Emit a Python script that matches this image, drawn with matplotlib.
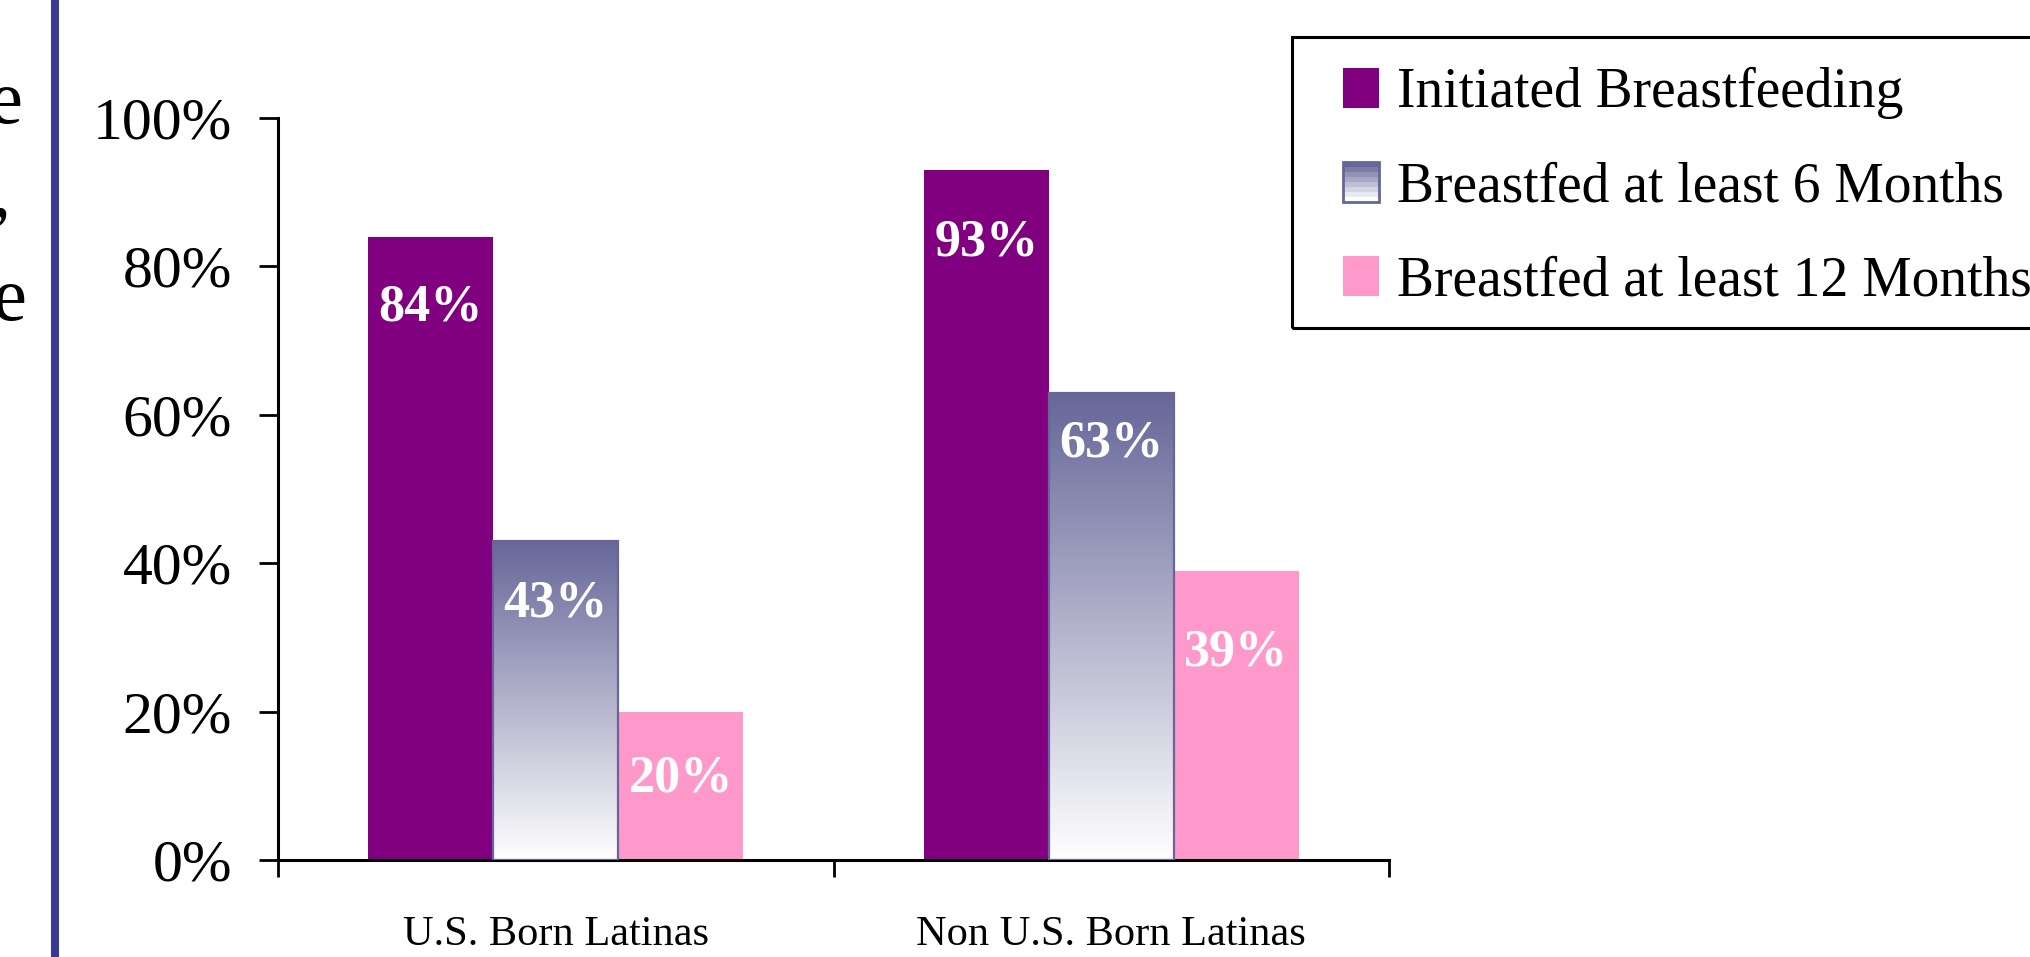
import numpy as np
import matplotlib
matplotlib.use("Agg")
import matplotlib.pyplot as plt
from matplotlib.patches import Rectangle
from matplotlib.colors import LinearSegmentedColormap, to_rgb
from matplotlib.legend_handler import HandlerBase

# ---------------------------------------------------------------------
# Datos
# ---------------------------------------------------------------------
categorias = ["U.S. Born Latinas", "Non U.S. Born Latinas"]
series = ["Initiated Breastfeeding",
          "Breastfed at least 6 Months",
          "Breastfed at least 12 Months"]
iniciado = [84, 93]
seis_meses = [43, 63]
doce_meses = [20, 39]
valores = [iniciado, seis_meses, doce_meses]
yticks = [0, 20, 40, 60, 80, 100]

# ---------------------------------------------------------------------
# Estilo
# ---------------------------------------------------------------------
W, H, DPI = 2030, 957, 100
PURPURA = "#800080"
GRIS_AZUL = "#666699"
ROSA = "#FF99CC"
SERIF = ["Liberation Serif", "DejaVu Serif"]
plt.rcParams["font.family"] = SERIF

ANCHO = 0.225
# distancia (en puntos) del texto de cada barra bajo su borde superior
caida = [[51, 52], [45, 37], [48, 59]]

grad_cmap = LinearSegmentedColormap.from_list("grad", ["#ffffff", GRIS_AZUL])

fig = plt.figure(figsize=(W / DPI, H / DPI), dpi=DPI)
ax = fig.add_axes([278 / W, 1 - 860 / H, (1389 - 278) / W, (860 - 118) / H])

x = np.arange(len(categorias))
for j, vals in enumerate(valores):
    pos = x + (j - 1) * ANCHO
    for k, (xp, v) in enumerate(zip(pos, vals)):
        if j == 1:
            grad = np.linspace(0, 1, 256).reshape(-1, 1)
            ax.imshow(grad, extent=[xp - ANCHO / 2, xp + ANCHO / 2, 0, v],
                      origin="lower", aspect="auto", cmap=grad_cmap, zorder=2)
            ax.bar(xp, v, ANCHO, facecolor="none", edgecolor=GRIS_AZUL,
                   linewidth=1.6, zorder=3)
        else:
            ax.bar(xp, v, ANCHO, color=PURPURA if j == 0 else ROSA,
                   linewidth=0, zorder=2)
        ax.annotate(f"{v}%", (xp, v), xytext=(0, -caida[j][k]),
                    textcoords="offset points", ha="center", va="center",
                    color="white", fontsize=37.5, fontweight="bold", zorder=4)

ax.set_xlim(-0.5, 1.5)
ax.set_ylim(0, 100)
ax.set_yticks(yticks)
ax.set_yticklabels([f"{t}%" for t in yticks])
ax.set_xticks([-0.5, 0.5, 1.5])
ax.set_xticklabels([])
ax.set_xticks(x, minor=True)
ax.set_xticklabels(categorias, minor=True)
ax.tick_params(axis="y", length=14, width=2, labelsize=43, pad=19, direction="out")
ax.tick_params(axis="x", which="major", length=12, width=2, direction="out")
ax.tick_params(axis="x", which="minor", length=0, labelsize=30.5, pad=40)
for s in ["top", "right"]:
    ax.spines[s].set_visible(False)
for s in ["left", "bottom"]:
    ax.spines[s].set_linewidth(2.2)


# ---------------------------------------------------------------------
# Leyenda
# ---------------------------------------------------------------------
class HandlerGradiente(HandlerBase):
    def create_artists(self, legend, orig_handle, xdescent, ydescent,
                       width, height, fontsize, trans):
        n = 8
        c0 = np.array(to_rgb(GRIS_AZUL))
        c1 = np.array([1.0, 1.0, 1.0])
        arts = []
        for i in range(n):
            f = i / (n - 1)
            col = c0 * (1 - f) + c1 * f
            r = Rectangle((-xdescent, -ydescent + height * (1 - (i + 1) / n)),
                          width, height / n, facecolor=col, edgecolor="none",
                          transform=trans)
            arts.append(r)
        arts.append(Rectangle((-xdescent, -ydescent), width, height,
                              facecolor="none", edgecolor=GRIS_AZUL,
                              linewidth=2, transform=trans))
        return arts


h_purpura = Rectangle((0, 0), 1, 1, facecolor=PURPURA, edgecolor="none")
h_grad = Rectangle((0, 0), 1, 1, facecolor=GRIS_AZUL)
h_rosa = Rectangle((0, 0), 1, 1, facecolor=ROSA, edgecolor="none")
leg = fig.legend([h_purpura, h_grad, h_rosa], series,
                 loc="upper left", bbox_to_anchor=(1343 / W, 1 - 67 / H),
                 frameon=False, fontsize=40, borderpad=0, borderaxespad=0,
                 handlelength=0.65, handleheight=0.72, handletextpad=0.32,
                 labelspacing=0.76,
                 handler_map={h_grad: HandlerGradiente()})

fig.add_artist(Rectangle((1292 / W, 1 - 328 / H), (2100 - 1292) / W,
                         (328 - 37) / H, transform=fig.transFigure,
                         fill=False, edgecolor="black", linewidth=2.2))

# ---------------------------------------------------------------------
# Restos de la diapositiva a la izquierda
# ---------------------------------------------------------------------
fig.add_artist(plt.Line2D([55 / W, 55 / W], [0, 1], transform=fig.transFigure,
                          color="#383896", linewidth=5.8))
fig.text(23 / W, 1 - 123 / H, "e", ha="right", va="baseline", fontsize=55)
fig.text(10 / W, 1 - 215 / H, ",", ha="right", va="baseline", fontsize=55)
fig.text(27 / W, 1 - 320 / H, "e", ha="right", va="baseline", fontsize=55)

fig.savefig("out.png", dpi=DPI)
